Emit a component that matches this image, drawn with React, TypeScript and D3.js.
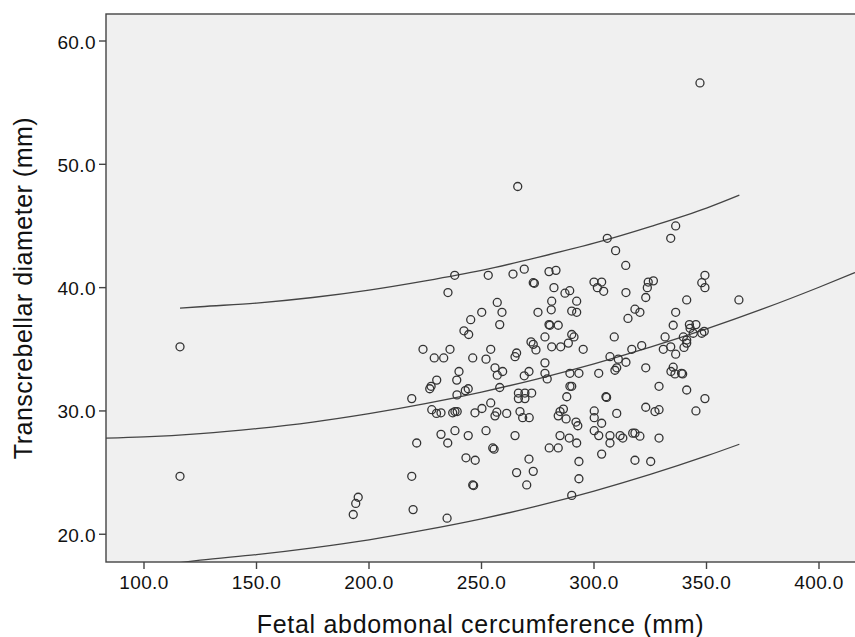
import React from 'react';
import * as d3 from 'd3';

// scatter: fetal abdominal circumference (mm) vs transcerebellar diameter (mm)
const acValues = [
  116.0, 116.0, 195.2, 194.1, 193.0, 219.6, 234.7,
  238.1, 253.0, 264.0, 235.1, 257.0, 250.1, 259.1, 245.2, 258.1, 242.2, 244.3,
  224.0, 236.0, 254.1, 265.6, 229.0, 233.2, 246.1, 252.0, 264.9, 240.0, 256.0,
  257.0, 259.4, 230.1, 239.0, 227.0, 227.6, 244.1, 242.8, 258.1, 219.0, 239.1,
  254.1, 227.9, 230.0, 232.0, 237.2, 238.2, 239.2, 247.1, 250.2, 256.8, 261.2,
  256.0, 221.2, 232.0, 235.0, 238.2, 244.1, 252.0, 264.9, 255.0, 255.6, 243.1,
  247.2, 219.0, 246.1, 246.5, 265.6,
  305.9, 336.3, 334.1, 309.6, 314.1, 269.0, 280.0, 283.1, 273.0, 273.5, 300.0,
  303.4, 301.5, 304.3, 324.1, 326.4, 323.7, 323.0, 282.2, 287.1, 289.2, 314.2,
  292.3, 281.2, 281.0, 275.1, 290.1, 292.3, 318.2, 320.4, 315.1, 336.3, 280.0,
  280.4, 284.1, 335.2, 278.2, 290.1, 291.1, 309.0, 331.6, 272.0, 273.0, 281.2,
  285.2, 288.6, 295.2, 274.2, 316.8, 321.2, 330.8, 334.1, 336.3, 307.1, 310.8,
  310.1, 309.3, 314.2, 278.2, 323.0, 335.2, 334.2, 336.0, 339.4, 338.9, 271.1,
  269.0, 278.2, 279.2, 289.3, 293.3, 302.1, 289.3, 290.1, 328.9, 266.4, 269.3,
  272.3, 266.4, 269.3, 287.9, 305.3, 305.6,
  267.1, 268.3, 271.2, 284.9, 286.4, 284.1, 287.6, 292.0, 292.8, 300.1, 300.1,
  303.4, 310.1, 323.0, 327.1, 284.9, 289.0, 292.3, 300.1, 302.1, 307.1, 307.1,
  311.6, 312.8, 317.2, 318.2, 320.4, 328.9, 280.1, 284.1, 303.4, 271.1, 293.3,
  318.2, 325.2, 273.0, 293.3, 270.1, 290.1,
  347.1, 349.3, 347.9, 349.3, 341.2, 364.4, 342.4, 345.3, 342.7, 349.0, 347.9,
  339.7, 341.2, 344.1, 340.0, 341.2, 341.2, 349.3, 345.3, 328.9, 266.1,
];
const tcdValues = [
  35.2, 24.7, 23.0, 22.5, 21.6, 22.0, 21.3,
  41.0, 41.0, 41.1, 39.6, 38.8, 38.0, 38.0, 37.4, 37.0, 36.5, 36.2,
  35.0, 35.0, 35.0, 34.7, 34.3, 34.3, 34.3, 34.2, 34.4, 33.2, 33.5,
  32.9, 33.2, 32.5, 32.5, 31.8, 32.0, 31.8, 31.65, 31.9, 31.0, 31.3,
  30.65, 30.1, 29.8, 29.85, 29.85, 29.95, 29.95, 29.85, 30.2, 29.9, 29.8,
  29.6, 27.4, 28.1, 27.4, 28.4, 28.0, 28.4, 28.0, 27.0, 26.9, 26.2,
  26.0, 24.7, 24.0, 23.95, 25.0,
  44.0, 45.0, 44.0, 43.0, 41.8, 41.5, 41.3, 41.4, 40.4, 40.35, 40.45,
  40.45, 40.0, 39.7, 40.45, 40.55, 40.0, 39.2, 40.0, 39.55, 39.75, 39.6,
  38.9, 38.9, 38.2, 38.0, 38.1, 38.0, 38.25, 38.0, 37.5, 38.0, 37.0,
  36.95, 36.95, 36.95, 36.0, 36.2, 36.0, 36.0, 36.0, 35.6, 35.4, 35.2,
  35.2, 35.5, 35.0, 34.95, 35.0, 35.3, 35.0, 35.2, 34.6, 34.4, 34.2,
  33.5, 33.3, 33.95, 33.9, 33.5, 33.55, 33.2, 33.0, 33.0, 33.05, 33.2,
  32.85, 33.05, 32.6, 33.05, 33.05, 33.05, 32.0, 32.0, 32.0, 31.45, 31.45,
  31.45, 31.0, 31.0, 31.15, 31.15, 31.1,
  29.95, 29.45, 29.45, 29.95, 30.15, 29.6, 29.35, 29.1, 28.8, 30.0, 29.45,
  29.0, 29.8, 30.3, 29.95, 28.0, 27.8, 27.4, 28.4, 28.0, 28.0, 27.4,
  28.0, 27.8, 28.2, 28.2, 27.95, 27.8, 27.0, 27.0, 26.5, 26.1, 25.9,
  26.0, 25.9, 25.1, 24.5, 24.0, 23.15,
  56.6, 41.0, 40.4, 40.0, 39.0, 39.0, 37.0, 37.0, 36.7, 36.45, 36.3,
  36.0, 35.75, 36.3, 35.15, 35.5, 31.7, 31.0, 30.0, 30.1, 48.2,
];

// fitted curve and its band
const fitAc = [83.1, 100, 125, 150, 175, 200, 225, 250, 275, 300, 325, 350, 375, 400, 416];
const fitTcd = [27.79, 27.89, 28.16, 28.57, 29.1, 29.78, 30.59, 31.53, 32.61, 33.82, 35.17, 36.65, 38.27, 40.03, 41.22];
const bandAc = [116, 125, 150, 175, 200, 225, 250, 275, 300, 325, 350, 364.6];
const upperTcd = [38.33, 38.45, 38.75, 39.2, 39.8, 40.55, 41.4, 42.45, 43.6, 44.95, 46.45, 47.5];
const lowerTcd = [17.7, 17.9, 18.35, 18.9, 19.55, 20.35, 21.25, 22.3, 23.5, 24.85, 26.35, 27.3];

const xTicks = [100, 150, 200, 250, 300, 350, 400];
const yTicks = [20, 30, 40, 50, 60];

const W = 855;
const H = 637;
const plot = { left: 106, top: 14, right: 855, bottom: 562 };
const font = '"Liberation Sans", Arial, sans-serif';
const ink = '#333';

export default function App() {
  const x = d3.scaleLinear().domain([83.11, 416]).range([plot.left, plot.right]);
  const y = d3.scaleLinear().domain([17.75, 62.19]).range([plot.bottom, plot.top]);

  const line = d3.line<[number, number]>()
    .x(d => x(d[0]))
    .y(d => y(d[1]))
    .curve(d3.curveMonotoneX);

  const fitPath = line(fitAc.map((a, i) => [a, fitTcd[i]]));
  const upperPath = line(bandAc.map((a, i) => [a, upperTcd[i]]));
  const lowerPath = line(bandAc.map((a, i) => [a, lowerTcd[i]]));
  const fmt = d3.format('.1f');

  return (
    <svg width={W} height={H} style={{ position: 'absolute', left: 0, top: 0, background: '#fff' }}>
      <defs>
        <clipPath id="plotClip">
          <rect x={plot.left} y={plot.top} width={plot.right - plot.left} height={plot.bottom - plot.top} />
        </clipPath>
      </defs>
      <rect x={plot.left} y={plot.top} width={plot.right - plot.left} height={plot.bottom - plot.top} fill="#f0f0f0" />

      <g clipPath="url(#plotClip)" fill="none" stroke="#444" strokeWidth={1.3}>
        <path d={fitPath ?? ''} />
        <path d={upperPath ?? ''} />
        <path d={lowerPath ?? ''} />
      </g>

      <g clipPath="url(#plotClip)" fill="none" stroke={ink} strokeWidth={1.3}>
        {acValues.map((a, i) => (
          <circle key={i} cx={x(a)} cy={y(tcdValues[i])} r={4} />
        ))}
      </g>

      <rect x={plot.left} y={plot.top} width={plot.right - plot.left + 2} height={plot.bottom - plot.top}
        fill="none" stroke="#444" strokeWidth={1.4} />

      <g fontFamily={font} fontSize={19} fill="#111">
        {xTicks.map(t => (
          <g key={t}>
            <line x1={x(t)} x2={x(t)} y1={plot.bottom} y2={plot.bottom + 7} stroke="#444" strokeWidth={1.4} />
            <text x={x(t)} y={plot.bottom + 27} textAnchor="middle" letterSpacing={0.4}>{fmt(t)}</text>
          </g>
        ))}
        {yTicks.map(t => (
          <g key={t}>
            <line x1={plot.left - 7} x2={plot.left} y1={y(t)} y2={y(t)} stroke="#444" strokeWidth={1.4} />
            <text x={plot.left - 10} y={y(t) + 7.5} textAnchor="end" letterSpacing={0.4}>{fmt(t)}</text>
          </g>
        ))}
      </g>

      <text x={(plot.left + plot.right) / 2} y={633} textAnchor="middle" fontFamily={font} fontSize={25}
        letterSpacing={0.7} fill="#111">
        Fetal abdomonal cercumference (mm)
      </text>
      <text transform={`translate(32,${(plot.top + plot.bottom) / 2}) rotate(-90)`} textAnchor="middle"
        fontFamily={font} fontSize={25} letterSpacing={0.5} fill="#111">
        Transcrebellar diameter (mm)
      </text>
    </svg>
  );
}
